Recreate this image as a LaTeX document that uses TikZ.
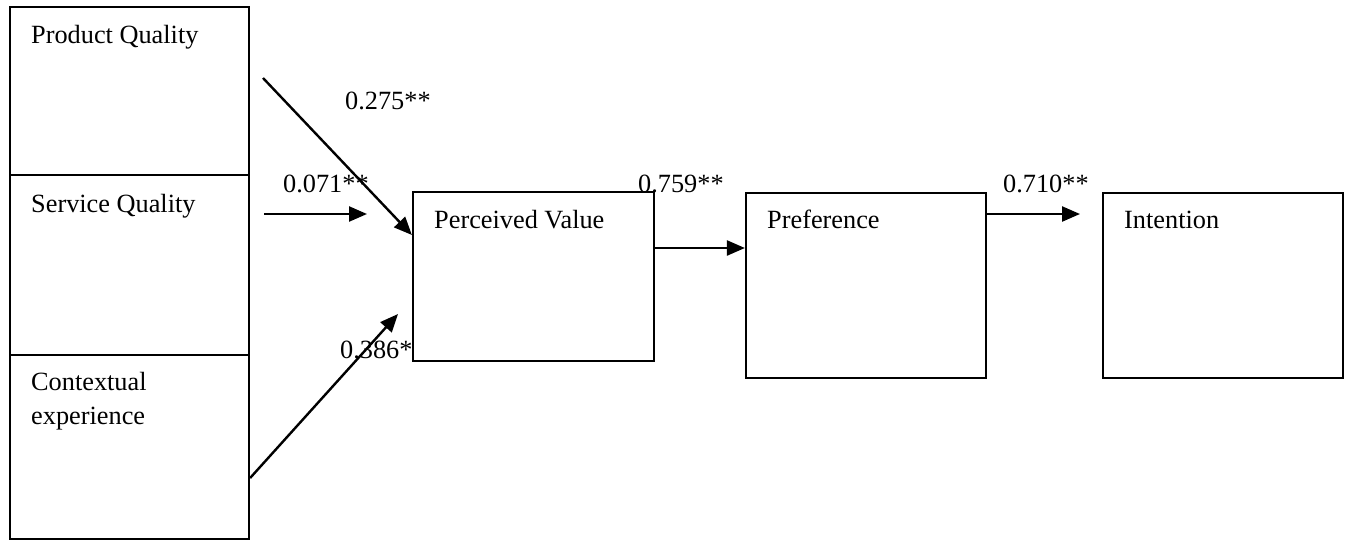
\documentclass[tikz,border=0pt]{standalone}
\usepackage{fontspec}
\setmainfont{Liberation Serif}
\usetikzlibrary{arrows.meta}
\begin{document}
\begin{tikzpicture}[x=1pt,y=-1pt,
  box/.style={draw, line width=2.2pt, rectangle, inner sep=0pt},
  txt/.style={anchor=base west, inner sep=0pt, font=\fontsize{26.3}{34}\selectfont},
  arr/.style={line width=2.4pt, -{Triangle[length=18pt,width=15pt]}}]
\useasboundingbox (0,0) rectangle (1348,541);
% boxes
\node[box, minimum width=239pt, minimum height=168pt] (pq) at (129.5,91) {};
\node[box, minimum width=239pt, minimum height=180pt] (sq) at (129.5,265) {};
\node[box, minimum width=239pt, minimum height=184pt] (ce) at (129.5,447) {};
\node[box, minimum width=241pt, minimum height=169pt] (pv) at (533.5,276.5) {};
\node[box, minimum width=240pt, minimum height=185pt] (pref) at (866,285.5) {};
\node[box, minimum width=240pt, minimum height=185pt] (int) at (1223,285.5) {};
% box texts
\node[txt] (tpq) at (31,43) {Product Quality};
\node[txt] (tsq) at (31,212) {Service Quality};
\node[txt] (tce) at (31,390) {Contextual};
\node[txt] (tce2) at (31,424) {experience};
\node[txt] (tpv) at (434,228) {Perceived Value};
\node[txt] (tpref) at (767,228) {Preference};
\node[txt] (tint) at (1124,228) {Intention};
% free ends
\coordinate (pqs) at (263,78);
\coordinate (sqs) at (264,214);
\coordinate (sqe) at (367,214);
\coordinate (cee) at (398,314);
\coordinate (prs) at (986,214);
\coordinate (inte) at (1080,214);
% connectors
\draw[arr] (pqs) -- (pv.west |- 0,235);
\draw[arr] (sqs) -- (sqe);
\draw[arr] (ce.east |- 0,478) -- (cee);
\draw[arr] (pv.east |- 0,248) -- (pref.west |- 0,248);
\draw[arr] (prs) -- (inte);
% coefficient labels
\node[txt] (l1) at (345,109) {0.275**};
\node[txt] (l2) at (283,192) {0.071**};
\node[txt] (l3) at (340,358) {0.386*};
\node[txt] (l4) at (638,192) {0.759**};
\node[txt] (l5) at (1003,192) {0.710**};
\end{tikzpicture}
\end{document}
